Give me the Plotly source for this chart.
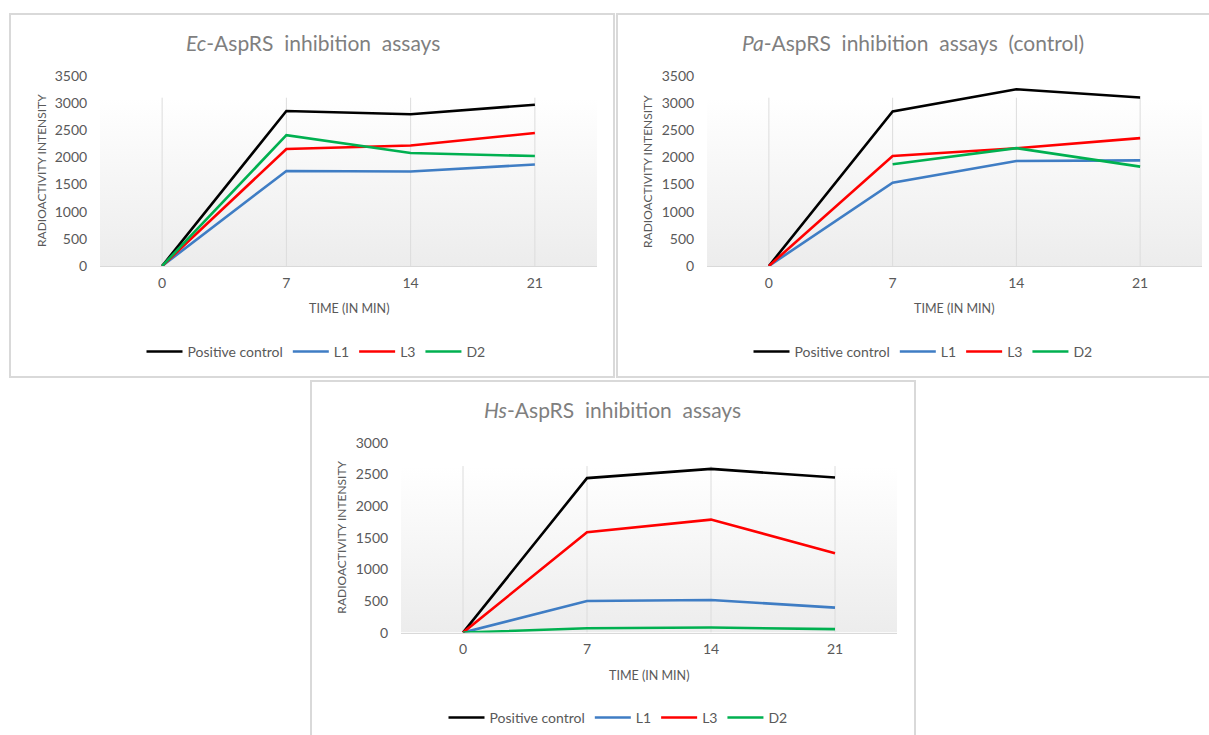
import plotly.graph_objects as go

# Sampling times (minutes) shown as evenly spaced categories
times = ["0", "7", "14", "21"]
series_names = ["Positive control", "L1", "L3", "D2"]
series_colors = ["#000000", "#3f7dc4", "#ff0000", "#00b050"]

# Ec-AspRS
ec_positive = [0, 2855, 2795, 2970]
ec_l1 = [0, 1750, 1740, 1870]
ec_l3 = [0, 2155, 2220, 2450]
ec_d2 = [0, 2410, 2080, 2025]

# Pa-AspRS (control)
pa_positive = [0, 2845, 3255, 3105]
pa_l1 = [0, 1535, 1935, 1945]
pa_l3 = [0, 2025, 2170, 2355]
pa_d2 = [None, 1875, 2170, 1830]

# Hs-AspRS
hs_positive = [0, 2440, 2585, 2450]
hs_l1 = [0, 500, 515, 395]
hs_l3 = [0, 1585, 1785, 1255]
hs_d2 = [0, 70, 80, 55]

W, H = 1209, 735
# vertical layout grid: offset and pitch of the panel layout rows
ROW_OFFSET = 8
ROW_PITCH = 0.977
FONT = "Lato, 'Open Sans', sans-serif"
GREY_TXT = "#595959"


def px_x(v):
    return v / W


def px_y(v):
    return 1 - ((v - ROW_OFFSET) / ROW_PITCH) / H


panels = [
    dict(
        title="<i>Ec</i>-AspRS&nbsp;&nbsp;inhibition&nbsp;&nbsp;assays",
        data=[ec_positive, ec_l1, ec_l3, ec_d2],
        xdom=(100, 597), ydom=(75, 265), ymax=3500, dtick=500, grad_top=3100,
        box=(10, 13, 614, 376), title_xy=(313, 42), ytitle_x=42,
        xtitle_xy=(349, 308), legend_xy=(316, 351),
    ),
    dict(
        title="<i>Pa</i>-AspRS&nbsp;&nbsp;inhibition&nbsp;&nbsp;assays&nbsp;&nbsp;(control)",
        data=[pa_positive, pa_l1, pa_l3, pa_d2],
        xdom=(707, 1202), ydom=(75, 265), ymax=3500, dtick=500, grad_top=3100,
        box=(617, 13, 1212, 376), title_xy=(913, 42), ytitle_x=648,
        xtitle_xy=(954, 308), legend_xy=(923, 351),
    ),
    dict(
        title="<i>Hs</i>-AspRS&nbsp;&nbsp;inhibition&nbsp;&nbsp;assays",
        data=[hs_positive, hs_l1, hs_l3, hs_d2],
        xdom=(401, 897), ydom=(441.7, 631.7), ymax=3000, dtick=500, grad_top=2630,
        box=(311, 380, 915, 760), title_xy=(612, 409), ytitle_x=342,
        xtitle_xy=(649, 675), legend_xy=(618, 717),
    ),
]

fig = go.Figure()
shapes = []
annotations = []
layout_extra = {}
positions = list(range(len(times)))

for i, p in enumerate(panels):
    n = "" if i == 0 else str(i + 1)
    xa, ya = "x" + n, "y" + n
    leg = "legend" + n

    # panel frame
    x0, y0, x1, y1 = p["box"]
    shapes.append(dict(type="rect", xref="paper", yref="paper",
                       x0=px_x(x0), x1=px_x(x1), y0=px_y(y1), y1=px_y(y0),
                       line=dict(color="#d9d9d9", width=2), fillcolor="white",
                       layer="below"))

    # plot-area gradient fill: light grey at the baseline fading to white
    fig.add_trace(go.Scatter(
        x=[-0.5, 3.5, 3.5, -0.5, -0.5],
        y=[0, 0, p["grad_top"], p["grad_top"], 0],
        fill="toself", mode="lines", line=dict(width=0),
        fillgradient=dict(type="vertical", start=0, stop=p["grad_top"],
                          colorscale=[[0, "#ececec"], [1, "#ffffff"]]),
        hoverinfo="skip", showlegend=False, xaxis=xa, yaxis=ya,
    ))

    # vertical gridlines at each category
    for xv in positions:
        fig.add_trace(go.Scatter(
            x=[xv, xv], y=[0, p["grad_top"]], mode="lines",
            line=dict(color="#dcdcdc", width=1),
            hoverinfo="skip", showlegend=False, xaxis=xa, yaxis=ya,
        ))

    for name, color, vals in zip(series_names, series_colors, p["data"]):
        fig.add_trace(go.Scatter(
            x=positions, y=vals, name=name, mode="lines",
            line=dict(color=color, width=2.6),
            xaxis=xa, yaxis=ya, legend=leg, connectgaps=False,
        ))

    xd = (px_x(p["xdom"][0]), px_x(p["xdom"][1]))
    yd = (px_y(p["ydom"][1]), px_y(p["ydom"][0]))
    layout_extra["xaxis" + n] = dict(
        domain=list(xd), anchor=ya, range=[-0.5, 3.5],
        tickmode="array", tickvals=positions, ticktext=times,
        showgrid=False, zeroline=False, showline=True, linecolor="#d9d9d9",
        linewidth=1, ticks="outside", ticklen=4, tickcolor="rgba(0,0,0,0)",
        tickfont=dict(family=FONT, size=14, color=GREY_TXT), fixedrange=True,
    )
    layout_extra["yaxis" + n] = dict(
        domain=list(yd), anchor=xa, range=[0, p["ymax"]], dtick=p["dtick"],
        showgrid=False, zeroline=False, showline=False,
        ticks="outside", ticklen=9, tickcolor="rgba(0,0,0,0)",
        tickfont=dict(family=FONT, size=14, color=GREY_TXT), fixedrange=True,
    )
    layout_extra[leg] = dict(
        orientation="h", x=px_x(p["legend_xy"][0]), y=px_y(p["legend_xy"][1]),
        xanchor="center", yanchor="middle",
        font=dict(family=FONT, size=14, color=GREY_TXT),
        bgcolor="rgba(0,0,0,0)", itemwidth=36, tracegroupgap=0,
    )

    annotations.append(dict(
        text=p["title"], xref="paper", yref="paper",
        x=px_x(p["title_xy"][0]), y=px_y(p["title_xy"][1]),
        xanchor="center", yanchor="middle", showarrow=False,
        font=dict(family=FONT, size=21, color="#7f7f7f"),
    ))
    annotations.append(dict(
        text="RADIOACTIVITY INTENSITY", xref="paper", yref="paper",
        x=px_x(p["ytitle_x"]), y=(yd[0] + yd[1]) / 2, textangle=-90,
        xanchor="center", yanchor="middle", showarrow=False,
        font=dict(family=FONT, size=12, color=GREY_TXT),
    ))
    annotations.append(dict(
        text="TIME (IN MIN)", xref="paper", yref="paper",
        x=px_x(p["xtitle_xy"][0]), y=px_y(p["xtitle_xy"][1]),
        xanchor="center", yanchor="middle", showarrow=False,
        font=dict(family=FONT, size=12.5, color=GREY_TXT),
    ))

fig.update_layout(
    width=W, height=H, autosize=False,
    margin=dict(l=0, r=0, t=0, b=0),
    paper_bgcolor="white", plot_bgcolor="rgba(0,0,0,0)",
    shapes=shapes, annotations=annotations, **layout_extra,
)

fig.write_html("out.html")
